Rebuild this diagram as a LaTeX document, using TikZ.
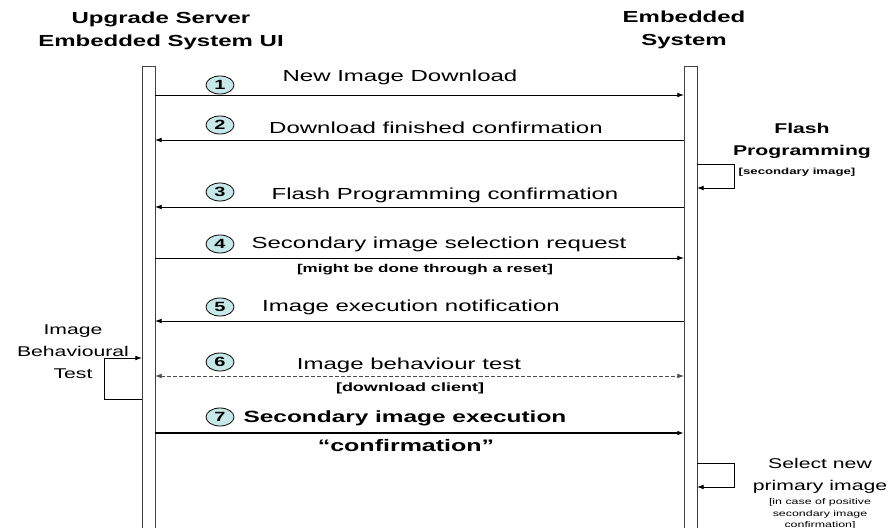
\documentclass[tikz,border=0pt]{standalone}
\usepackage{fontspec}
\setmainfont{Liberation Sans}[FakeStretch=1.5]
\usetikzlibrary{arrows.meta,shapes.geometric}

\definecolor{stepfill}{RGB}{198,232,232}

\tikzset{
  lifeline/.style={draw=black!75, line width=0.7pt},
  msg/.style={line width=0.6pt, -{Latex[length=5pt,width=3.5pt]}},
  stepno/.style={ellipse, draw, line width=0.6pt, fill=stepfill, inner sep=0pt,
    minimum width=21pt, minimum height=13.5pt, font=\fontsize{10}{10}\selectfont\bfseries},
  msgtext/.style={font=\fontsize{12}{14}\selectfont},
  title/.style={align=center, font=\fontsize{12}{17}\selectfont\bfseries},
  sidetext/.style={align=center, font=\fontsize{10.6}{16.5}\selectfont},
}

\begin{document}
\begin{tikzpicture}[x=0.75pt, y=-0.75pt]
  \useasboundingbox (0,0) rectangle (893,528);
  % Titles
  \node[title] (srvtitle) at (161,31) {Upgrade Server\\Embedded System UI};
  \node[title] (embtitle) at (684,30) {Embedded\\System};
  % Lifelines
  \draw[lifeline] (142,66) rectangle (155,532);
  \draw[lifeline] (684,66) rectangle (697,532);
  % Message end points on both lifelines
  \foreach \i/\y in {1/95,2/140,3/207,4/258,5/321,6/376,7/433} {
    \coordinate (srv\i) at (155,\y);
    \coordinate (emb\i) at (684,\y);
  }
  % Messages
  \draw[msg] (srv1) -- (emb1);
  \draw[msg] (emb2) -- (srv2);
  \draw[msg] (emb3) -- (srv3);
  \draw[msg] (srv4) -- (emb4);
  \draw[msg] (emb5) -- (srv5);
  \draw[msg, {Latex[length=5pt,width=3.5pt]}-{Latex[length=5pt,width=3.5pt]},
    black!70, dash pattern=on 2.5pt off 2pt] (srv6) -- (emb6);
  \draw[msg, line width=1.4pt] (srv7) -- (emb7);
  % Step numbers
  \foreach \i/\y in {1/85,2/125,3/192,4/244,5/307,6/362,7/417}
    \node[stepno] (no\i) at (220,\y) {\i};
  % Message labels
  \node[msgtext] (t1) at (400,77) {New Image Download};
  \node[msgtext] (t2) at (436,128) {Download finished confirmation};
  \node[msgtext] (t3) at (445,195) {Flash Programming confirmation};
  \node[msgtext] (t4) at (439,244) {Secondary image selection request};
  \node[font=\fontsize{8.5}{10}\selectfont\bfseries] (t4b) at (425,270) {[might be done through a reset]};
  \node[msgtext] (t5) at (411,307) {Image execution notification};
  \node[msgtext] (t6) at (409,365) {Image behaviour test};
  \node[font=\fontsize{9}{10}\selectfont\bfseries] (t6b) at (410,388) {[download client]};
  \node[msgtext, font=\fontsize{12.2}{14}\selectfont\bfseries] (t7) at (405,418) {Secondary image execution};
  \node[msgtext, font=\fontsize{12.5}{14}\selectfont\bfseries] (t7b) at (406,446) {“confirmation”};
  % Flash programming on the embedded side
  \node[sidetext, font=\fontsize{10.6}{16.5}\selectfont\bfseries] (flash) at (802,141) {Flash\\Programming};
  \node[font=\fontsize{6.6}{8}\selectfont\bfseries] (flashb) at (797,172) {[secondary image]};
  \coordinate (fpA) at (697,164);
  \coordinate (fpB) at (697,188);
  \draw[msg] (fpA) -- ++(37,0) |- (fpB);
  % Behaviour test on the server side
  \node[sidetext] (ibt) at (73,352) {Image\\Behavioural\\Test};
  \coordinate (ibA) at (142,399);
  \coordinate (ibB) at (142,358);
  \draw[msg] (ibA) -- ++(-38,0) |- (ibB);
  % Primary image selection
  \node[sidetext] (sel) at (820,476) {Select new\\primary image};
  \node[align=center, font=\fontsize{6.2}{8.8}\selectfont] (selb) at (820,514) {[in case of positive\\secondary image\\confirmation]};
  \coordinate (spA) at (697,463);
  \coordinate (spB) at (697,487);
  \draw[msg] (spA) -- ++(37,0) |- (spB);
\end{tikzpicture}
\end{document}
